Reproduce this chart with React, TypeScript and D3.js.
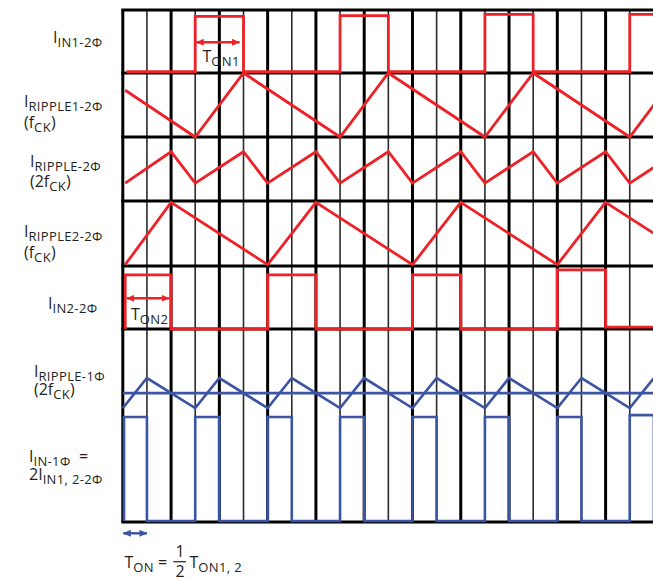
import React from 'react';
import * as d3 from 'd3';

// ---------- data ----------
// time in grid units (one unit = one thin/thick column), values normalised 0..1 within each row band
const gridTicks: number[] = d3.range(0, 22);

const iin1Pts: [number, number][] = [
  [0.15, 0.02], [3, 0.02], [3, 0.9], [5, 0.9], [5, 0.02], [9, 0.02], [9, 0.91], [11, 0.91], [11, 0.02],
  [15, 0.02], [15, 0.93], [17, 0.93], [17, 0.02], [21, 0.02], [21, 0.93], [23, 0.93],
];
const ripple1Pts: [number, number][] = [
  [0.1, 0.73], [3, 0.0], [5, 1.0], [9, 0.0], [11, 1.0], [15, 0.0], [17, 1.0], [21, 0.0], [23, 1.0],
];
const ripple2fPts: [number, number][] = [
  [0.1, 0.28], [2, 0.77], [3, 0.28], [5, 0.77], [6, 0.28], [8, 0.77], [9, 0.28], [11, 0.77], [12, 0.28],
  [14, 0.77], [15, 0.28], [17, 0.77], [18, 0.28], [20, 0.77], [21, 0.28], [23, 0.77],
];
const ripple2Pts: [number, number][] = [
  [0.1, 0.02], [2, 0.98], [6, 0.02], [8, 0.98], [12, 0.02], [14, 0.98], [18, 0.02], [20, 0.98], [24, 0.02],
];
const iin2Pts: [number, number][] = [
  [0.1, 0.0], [0.1, 0.86], [2, 0.86], [2, 0.0], [6, 0.0], [6, 0.86], [8, 0.86], [8, 0.0], [12, 0.0],
  [12, 0.86], [14, 0.86], [14, 0.0], [18, 0.0], [18, 0.94], [20, 0.94], [20, 0.03], [23, 0.03],
];
// lower band (single-phase)
const ripple1phPts: [number, number][] = [
  [0, 0.59], [1, 0.746], [3, 0.59], [4, 0.746], [6, 0.59], [7, 0.746], [9, 0.59], [10, 0.746], [12, 0.59],
  [13, 0.746], [15, 0.59], [16, 0.746], [18, 0.59], [19, 0.746], [21, 0.59], [22, 0.746],
];
const ripple1phMean = 0.668;
const iin1phPts: [number, number][] = [
  [0.05, 0.005], [0.05, 0.544], [1, 0.544], [1, 0.005], [3, 0.005], [3, 0.544], [4, 0.544], [4, 0.005],
  [6, 0.005], [6, 0.544], [7, 0.544], [7, 0.005], [9, 0.005], [9, 0.544], [10, 0.544], [10, 0.005],
  [12, 0.005], [12, 0.544], [13, 0.544], [13, 0.005], [15, 0.005], [15, 0.544], [16, 0.544], [16, 0.005],
  [18, 0.005], [18, 0.544], [19, 0.544], [19, 0.005], [21, 0.005], [21, 0.554], [22, 0.554], [22, 0.005], [23, 0.005],
];

// labels: each line is a list of [text, isSubscript]
type Part = [string, boolean];
const labelLines1: Part[][] = [
  [['I', false], ['IN1-2Φ', true]],
  [['I', false], ['RIPPLE1-2Φ', true]],
  [['I', false], ['RIPPLE-2Φ', true]],
  [['I', false], ['RIPPLE2-2Φ', true]],
  [['I', false], ['IN2-2Φ', true]],
  [['I', false], ['RIPPLE-1Φ', true]],
  [['I', false], ['IN-1Φ', true], ['  =', false]],
];
const labelLines2: (Part[] | null)[] = [
  null,
  [['(f', false], ['CK', true], [')', false]],
  [['(2f', false], ['CK', true], [')', false]],
  [['(f', false], ['CK', true], [')', false]],
  null,
  [['(2f', false], ['CK', true], [')', false]],
  [['2I', false], ['IN1, 2-2Φ', true]],
];
const ton1Label: Part[] = [['T', false], ['ON1', true]];
const ton2Label: Part[] = [['T', false], ['ON2', true]];
const tonLeft: Part[] = [['T', false], ['ON', true], [' =', false]];
const tonRight: Part[] = [['T', false], ['ON1, 2', true]];
const fracNum = '1';
const fracDen = '2';

// ---------- layout ----------
const W = 653;
const H = 581;
const RED = '#ed2227';
const BLUE = '#3b54a3';
const INK = '#231f20';
const FONT = "'Open Sans', 'Noto Sans', sans-serif";
const MAIN = 16;
const SUB = 13;
const SUBDY = 4;

const rowEdges = [10, 73, 137, 201, 266, 329, 522];
const labelX = [53, 24, 30, 24, 48, 34, 29];
const labelY1 = [42.7, 107.3, 167.3, 236.7, 309.3, 376.7, 461.7];
const labelY2 = [0, 128, 186.7, 258.3, 0, 395, 480];

const x = d3.scaleLinear().domain([0, 22]).range([122.8, 122.8 + 22 * 24.14]);
const band = (i: number, j: number = i) =>
  d3.scaleLinear().domain([0, 1]).range([rowEdges[j + 1], rowEdges[i]]);

const yRow = [band(0), band(1), band(2), band(3), band(4), band(5)];

function Rich({ parts, x0, y0, anchor = 'start', size = MAIN, sub = SUB }: { parts: Part[]; x0: number; y0: number; anchor?: string; size?: number; sub?: number }) {
  let level = 0;
  return (
    <text x={x0} y={y0} fill={INK} fontFamily={FONT} textAnchor={anchor} style={{ whiteSpace: 'pre' }}>
      {parts.map(([t, isSub], i) => {
        const target = isSub ? 1 : 0;
        const dy = (target - level) * SUBDY;
        level = target;
        return (
          <tspan key={i} dy={dy} fontSize={isSub ? sub : size} letterSpacing={isSub ? 0.35 : 0}>
            {t}
          </tspan>
        );
      })}
    </text>
  );
}

export default function App() {
  const mk = (pts: [number, number][], ys: d3.ScaleLinear<number, number>) =>
    d3.line<[number, number]>().x((d) => x(d[0])).y((d) => ys(d[1]))(pts) || '';

  const top = rowEdges[0];
  const bottom = rowEdges[rowEdges.length - 1];

  return (
    <svg width={W} height={H} style={{ position: 'absolute', left: 0, top: 0, background: '#fff' }}>
      <defs>
        <marker id="ar" viewBox="0 0 8 7" refX="7.5" refY="3.5" markerWidth="8" markerHeight="7" markerUnits="userSpaceOnUse" orient="auto-start-reverse">
          <path d="M0,0 L8,3.5 L0,7 z" fill={RED} />
        </marker>
        <marker id="ab" viewBox="0 0 8 7" refX="7.5" refY="3.5" markerWidth="8" markerHeight="7" markerUnits="userSpaceOnUse" orient="auto-start-reverse">
          <path d="M0,0 L8,3.5 L0,7 z" fill={BLUE} />
        </marker>
      </defs>

      {/* grid */}
      {gridTicks.map((k) => (
        <line
          key={'v' + k}
          x1={x(k)}
          x2={x(k)}
          y1={top}
          y2={bottom}
          stroke={k % 2 === 0 ? '#000' : '#2a2a2a'}
          strokeWidth={k % 2 === 0 ? 3 : 1.6}
        />
      ))}
      {rowEdges.map((y, i) => (
        <line key={'h' + i} x1={x(0) - 1.5} x2={W} y1={y} y2={y} stroke="#000" strokeWidth={3} />
      ))}

      {/* red waveforms */}
      <g fill="none" stroke={RED} strokeWidth={2.8} strokeLinejoin="miter">
        <path d={mk(iin1Pts, yRow[0])} />
        <path d={mk(ripple1Pts, yRow[1])} />
        <path d={mk(ripple2fPts, yRow[2])} />
        <path d={mk(ripple2Pts, yRow[3])} />
        <path d={mk(iin2Pts, yRow[4])} />
      </g>

      {/* blue waveforms */}
      <g fill="none" stroke={BLUE} strokeWidth={2.6}>
        <line x1={x(0)} x2={W} y1={yRow[5](ripple1phMean)} y2={yRow[5](ripple1phMean)} />
        <path d={mk(ripple1phPts, yRow[5])} />
        <path d={mk(iin1phPts, yRow[5])} />
      </g>

      {/* annotations */}
      <line x1={x(3) + 1} x2={x(5) - 4} y1={42.3} y2={42.3} stroke={RED} strokeWidth={2.6} markerStart="url(#ar)" markerEnd="url(#ar)" />
      <Rich parts={ton1Label} x0={202.5} y0={61.7} />
      <line x1={x(0) + 4} x2={x(2) - 2} y1={298.3} y2={298.3} stroke={RED} strokeWidth={2.6} markerStart="url(#ar)" markerEnd="url(#ar)" />
      <Rich parts={ton2Label} x0={131} y0={320} />
      <line x1={x(0) + 0.5} x2={x(1)} y1={533.3} y2={533.3} stroke={BLUE} strokeWidth={2.4} markerStart="url(#ab)" markerEnd="url(#ab)" />

      <Rich parts={tonLeft} x0={124.5} y0={568.3} />
      <text x={180} y={557.2} fill={INK} fontFamily={FONT} fontSize={MAIN} textAnchor="middle">{fracNum}</text>
      <line x1={173.3} x2={186} y1={561.7} y2={561.7} stroke={INK} strokeWidth={1.2} />
      <text x={180} y={577.2} fill={INK} fontFamily={FONT} fontSize={MAIN} textAnchor="middle">{fracDen}</text>
      <Rich parts={tonRight} x0={189.5} y0={568.3} />

      {/* row labels */}
      {labelLines1.map((parts, i) => (
        <Rich key={'l1' + i} parts={parts} x0={labelX[i]} y0={labelY1[i]} />
      ))}
      {labelLines2.map((parts, i) =>
        parts ? <Rich key={'l2' + i} parts={parts} x0={labelX[i]} y0={labelY2[i]} /> : null
      )}
    </svg>
  );
}
